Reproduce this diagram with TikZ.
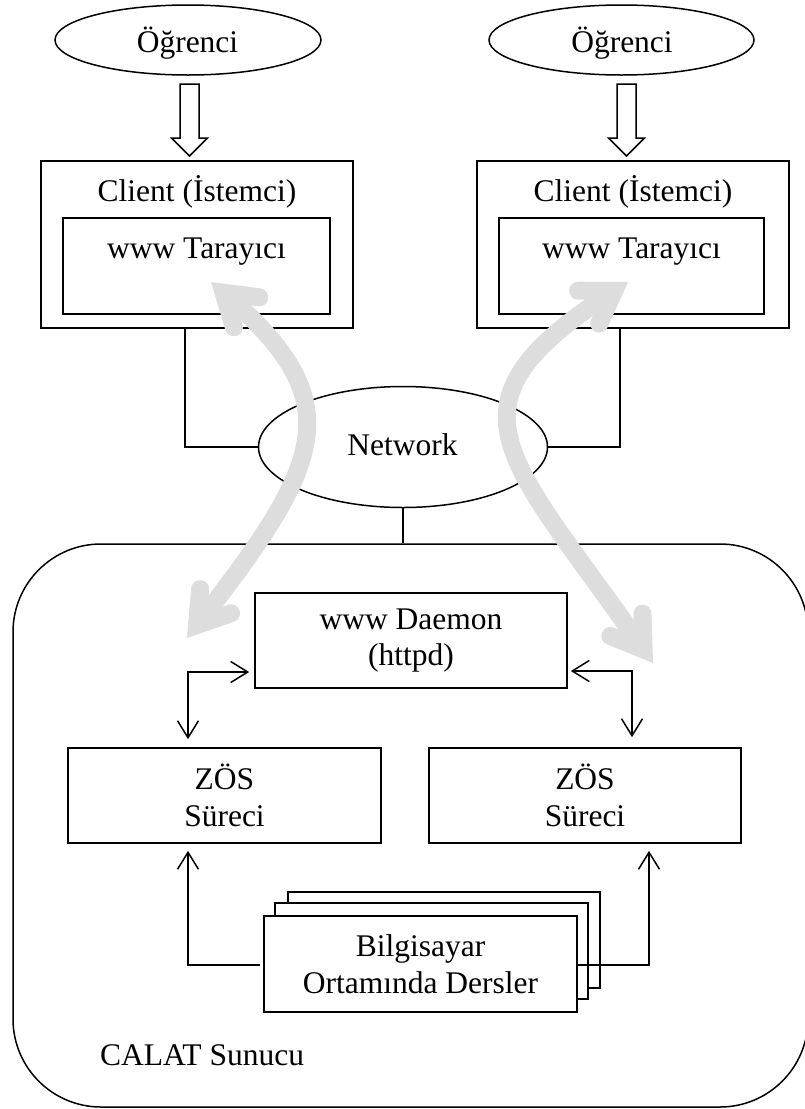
\documentclass[tikz,border=0pt]{standalone}
\usepackage{fontspec}
\setmainfont{Liberation Serif}
\usetikzlibrary{arrows.meta,shapes.geometric,calc}

\definecolor{flowgrey}{RGB}{221,221,221}

\begin{document}
\begin{tikzpicture}[x=1pt,y=-1pt,
  every node/.style={font=\fontsize{31.5}{36.5}\selectfont, inner sep=0pt},
  box/.style={draw, line width=1.7pt, fill=white, rectangle, align=center},
  oval/.style={draw, line width=1.5pt, ellipse, fill=white},
  link/.style={line width=1.5pt},
  barb/.tip={Straight Barb[length=17pt,width=21pt]},
  hollow/.style={draw, line width=1.5pt, fill=white, line join=miter},
  flow/.style={draw=flowgrey, line width=18pt, line cap=butt},
  flowhead/.style={draw=flowgrey, line width=18pt, line cap=round, line join=miter},
  label/.style={anchor=base}
]
\useasboundingbox (0,0) rectangle (805,1109);

% server frame
\node[draw, line width=1.5pt, rounded corners=88pt, minimum width=795pt, minimum height=563pt] (srv) at (410.5,825.5) {};
\node[anchor=base west] (srvt) at (100,1065) {CALAT Sunucu};

% students
\node[oval, minimum width=266pt, minimum height=70pt] (st1) at (188,40) {};
\node[label] (st1t) at (187.5,52) {Öğrenci};
\node[oval, minimum width=265pt, minimum height=70pt] (st2) at (621.5,40) {};
\node[label] (st2t) at (622,52) {Öğrenci};

% hollow block arrows from student to client
\coordinate (ha1) at (189.5,156);
\coordinate (ha2) at (626.5,156);
\foreach \h in {ha1,ha2}{
  \draw[hollow] ($(\h)+(-9.5,-72)$) -- ($(\h)+(9.5,-72)$) -- ($(\h)+(9.5,-18)$)
    -- ($(\h)+(18,-18)$) -- (\h) -- ($(\h)+(-18,-18)$) -- ($(\h)+(-9.5,-18)$) -- cycle;
}

% network
\node[oval, minimum width=289pt, minimum height=121pt] (net) at (403,447) {};
\node[label] (nett) at (402.5,455) {Network};

% clients
\node[box, minimum width=312pt, minimum height=167pt] (cl1) at (197,244.5) {};
\node[label] (cl1t) at (197,201) {Client (İstemci)};
\node[box, minimum width=267pt, minimum height=96pt] (br1) at (196.5,266) {};
\node[label] (br1t) at (196.5,258) {www Tarayıcı};

\node[box, minimum width=312pt, minimum height=167pt] (cl2) at (633,244.5) {};
\node[label] (cl2t) at (633,201) {Client (İstemci)};
\node[box, minimum width=265pt, minimum height=96pt] (br2) at (631.5,266) {};
\node[label] (br2t) at (631.5,258) {www Tarayıcı};

% client to network, network to server
\draw[link] (cl1.south -| 185,0) |- (net.west);
\draw[link] (cl2.south -| 620,0) |- (net.east);
\draw[link] (net.south) -- (net.south |- srv.north);

% server side
\node[box, minimum width=312pt, minimum height=95pt] (dmn) at (411,640.5) {www Daemon\\(httpd)};
\node[box, minimum width=313pt, minimum height=95pt] (zos1) at (224.5,795.5) {ZÖS\\Süreci};
\node[box, minimum width=312pt, minimum height=95pt] (zos2) at (585,795.5) {ZÖS\\Süreci};

% stacked lesson pages
\node[box, line width=1.1pt, minimum width=312pt, minimum height=96pt] (pg3) at (444,940) {};
\node[box, minimum width=313pt, minimum height=96pt] (pg2) at (431.5,951) {};
\node[box, minimum width=313pt, minimum height=96pt] (pg1) at (420.5,964) {Bilgisayar\\Ortamında Dersler};

% daemon <-> processes
\draw[link, barb-barb, shorten <=5pt, shorten >=8pt] (dmn.west |- 0,672) -| (zos1.north -| 188,0);
\draw[link, barb-barb, shorten <=3pt, shorten >=10pt] (dmn.east |- 0,671) -| (zos2.north -| 632,0);

% lessons -> processes
\draw[link, -barb, shorten <=3pt, shorten >=7pt] (pg1.west |- 0,965) -| (zos1.south -| 188,0);
\draw[link, -barb, shorten >=7pt] (pg1.east |- 0,965) -| (zos2.south -| 649,0);

% grey request/response flows
\coordinate (gLa) at (223.6,292.7);
\coordinate (gLb) at (197.1,625);
\coordinate (gRa) at (614.1,290.9);
\coordinate (gRb) at (643.6,649.5);
\draw[flow] (gLa) .. controls (353,403) and (322.8,463) .. (gLb);
\draw[flow] (gRa) .. controls (433.5,407) and (506.8,452.7) .. (gRb);
\draw[flowhead] ($(gLa)+(7.4:36)$) -- (gLa) -- ($(gLa)+(73.4:36)$);
\draw[flowhead] ($(gLb)+(-19.2:36)$) -- (gLb) -- ($(gLb)+(-85.2:36)$);
\draw[flowhead] ($(gRa)+(114.3:36)$) -- (gRa) -- ($(gRa)+(180.3:36)$);
\draw[flowhead] ($(gRb)+(202.2:36)$) -- (gRb) -- ($(gRb)+(268.2:36)$);
\end{tikzpicture}
\end{document}
